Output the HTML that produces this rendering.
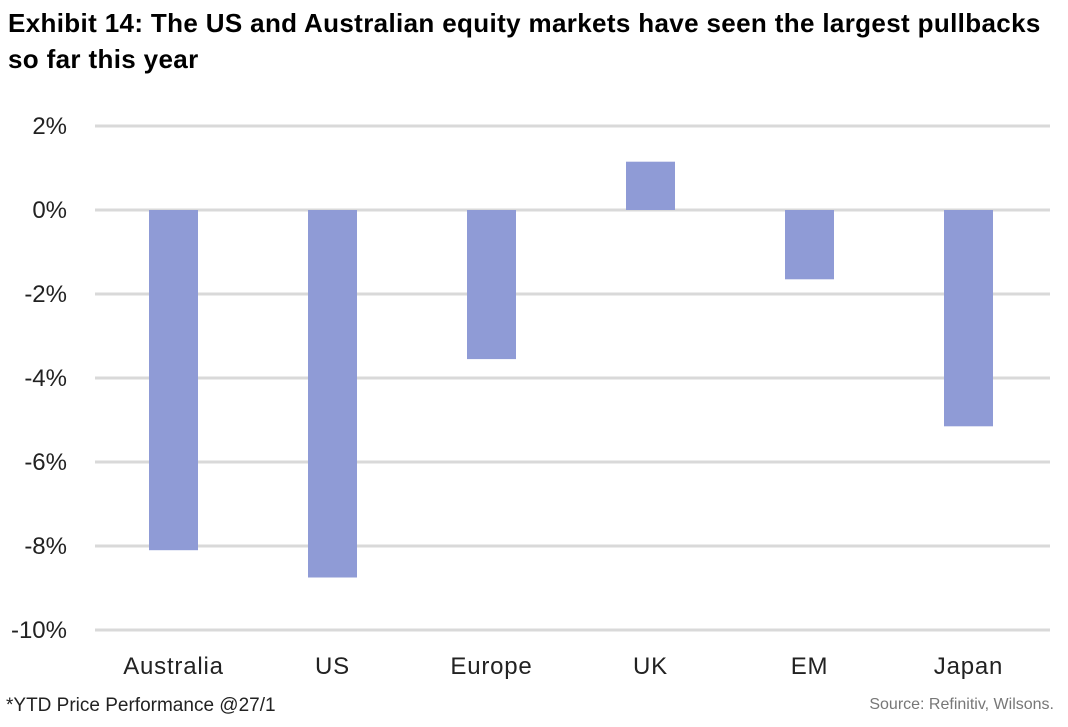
<!DOCTYPE html>
<html><head><meta charset="utf-8"><style>
body{margin:0;background:#fff;width:1068px;height:727px;overflow:hidden;font-family:"Liberation Sans",sans-serif}
#title{position:absolute;left:8px;top:5px;font-size:26px;font-weight:bold;line-height:36px;color:#000;letter-spacing:0.35px}
#note{position:absolute;left:6px;top:695px;font-size:19px;color:#222}
#src{position:absolute;right:14px;top:696px;font-size:16px;color:#777}
svg{position:absolute;left:0;top:0}
</style></head><body>
<div id="title">Exhibit 14: The US and Australian equity markets have seen the largest pullbacks<br>so far this year</div>
<svg id="chart" width="1068" height="727"></svg>
<div id="note">*YTD Price Performance @27/1</div>
<div id="src">Source: Refinitiv, Wilsons.</div>
<script>
const categories=["Australia","US","Europe","UK","EM","Japan"];
const values=[-8.1,-8.75,-3.55,1.15,-1.65,-5.15];
const ticks=[2,0,-2,-4,-6,-8,-10];
const ns="http://www.w3.org/2000/svg";
const svg=document.getElementById('chart');
const x0=94,cw=159,bw=49,plotR=1050;
const y=v=>210-v*42;
function mk(t,a){const e=document.createElementNS(ns,t);for(const k in a)e.setAttribute(k,a[k]);svg.appendChild(e);return e;}
ticks.forEach(t=>{
 const l=mk('line',{x1:95,x2:plotR,y1:y(t),y2:y(t),stroke:'#d9d9d9','stroke-width':3});
 
 
 const tx=mk('text',{x:67,y:y(t)+8,'text-anchor':'end','font-size':24,fill:'#222','font-family':'Liberation Sans,sans-serif'});
 tx.textContent=t+'%';
 
 
});
categories.forEach((c,i)=>{
 const cx=x0+cw*i+cw/2,v=values[i];
 const r=mk('rect',{x:cx-bw/2,y:Math.min(y(v),y(0)),width:bw,height:Math.abs(y(v)-y(0)),fill:'#8f9bd6'});
 
 
 const tx=mk('text',{x:cx,y:674,'text-anchor':'middle','font-size':24,'letter-spacing':0.8,fill:'#222','font-family':'Liberation Sans,sans-serif'});
 tx.textContent=c;
 
 
});
</script>
</body></html>
